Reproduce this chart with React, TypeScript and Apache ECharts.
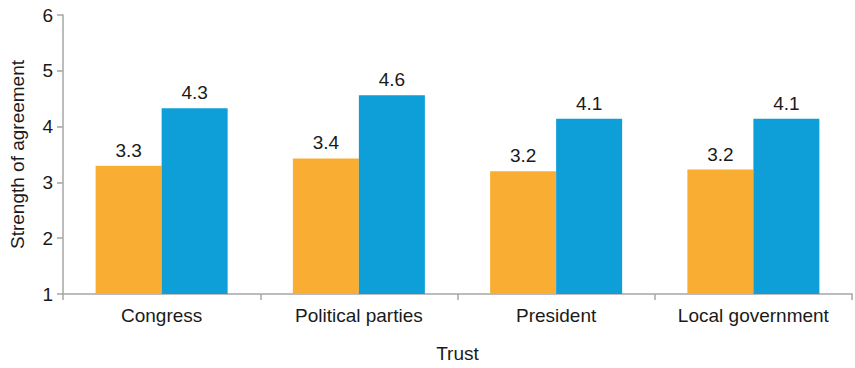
import React, { useEffect, useRef } from "react";
import * as echarts from "echarts";

const categories = ["Congress", "Political parties", "President", "Local government"];
const seriesA = [3.3, 3.43, 3.2, 3.23];
const seriesB = [4.33, 4.56, 4.14, 4.14];
const yTicks = [1, 2, 3, 4, 5, 6];

const FONT = "'Liberation Sans', Arial, sans-serif";
const TEXT = "#1a1a1a";

export default function App() {
  const ref = useRef<HTMLDivElement>(null);
  useEffect(() => {
    if (!ref.current) return;
    const chart = echarts.init(ref.current, undefined, { renderer: "svg" });
    const label = {
      show: true,
      position: "top" as const,
      distance: 6,
      fontFamily: FONT,
      fontSize: 19,
      color: TEXT,
      formatter: (p: any) => Number(p.value).toFixed(1),
    };
    chart.setOption({
      animation: false,
      textStyle: { fontFamily: FONT },
      grid: { left: 62, right: 3, top: 15, bottom: 71, containLabel: false },
      xAxis: {
        type: "category",
        data: categories,
        name: "Trust",
        nameLocation: "middle",
        nameGap: 50,
        nameTextStyle: { fontFamily: FONT, fontSize: 19, color: TEXT },
        axisLine: { lineStyle: { color: "#a6a6a6", width: 1.5 } },
        axisTick: { show: true, length: 6, lineStyle: { color: "#a6a6a6", width: 1.5 } },
        axisLabel: { fontFamily: FONT, fontSize: 19, color: TEXT, margin: 12 },
      },
      yAxis: {
        type: "value",
        min: yTicks[0],
        max: yTicks[yTicks.length - 1],
        interval: 1,
        name: "Strength of agreement",
        nameLocation: "middle",
        nameGap: 36,
        nameTextStyle: { fontFamily: FONT, fontSize: 19, color: TEXT },
        splitLine: { show: false },
        axisLine: { show: true, lineStyle: { color: "#a6a6a6", width: 1.5 } },
        axisTick: { show: true, length: 6, lineStyle: { color: "#a6a6a6", width: 1.5 } },
        axisLabel: { fontFamily: FONT, fontSize: 19, color: TEXT, margin: 10 },
      },
      series: [
        {
          type: "bar",
          data: seriesA,
          barWidth: 66,
          barGap: "0%",
          itemStyle: { color: "#F9AE33" },
          label,
        },
        {
          type: "bar",
          data: seriesB,
          barWidth: 66,
          barGap: "0%",
          itemStyle: { color: "#0E9ED8" },
          label,
        },
      ],
    });
    return () => chart.dispose();
  }, []);
  return <div ref={ref} style={{ width: 855, height: 368, position: "absolute", left: 0, top: 0 }} />;
}
